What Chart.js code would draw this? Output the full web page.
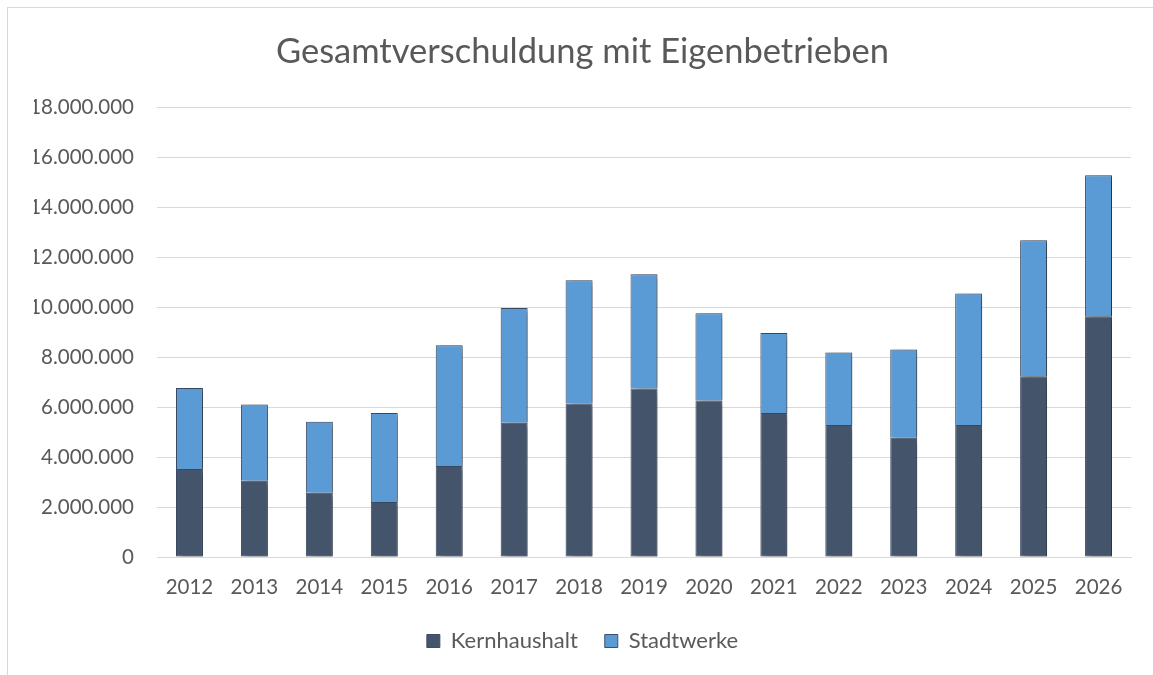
<!DOCTYPE html>
<html>
<head>
<meta charset="utf-8">
<script src="https://cdn.jsdelivr.net/npm/chart.js@4/dist/chart.umd.min.js"></script>
<style>
  html, body { margin: 0; padding: 0; background: #fff; overflow: hidden; }
  #wrap { position: relative; width: 1153px; height: 675px; }
  #frame { position: absolute; left: 7px; top: 7px; width: 1200px; height: 700px;
           border-left: 1px solid #D9D9D9; border-top: 1px solid #D9D9D9; pointer-events: none; }
  canvas { position: absolute; left: 0; top: 0; }
</style>
</head>
<body>
<div id="wrap">
  <canvas id="c" width="1153" height="675"></canvas>
  <div id="frame"></div>
</div>
<script>
const categories = ['2012','2013','2014','2015','2016','2017','2018','2019','2020','2021','2022','2023','2024','2025','2026'];
const kernhaushalt = [3520000, 3050000, 2570000, 2200000, 3640000, 5370000, 6150000, 6750000, 6270000, 5770000, 5280000, 4770000, 5280000, 7240000, 9640000];
const gesamt = [6770000, 6110000, 5410000, 5770000, 8480000, 9970000, 11080000, 11320000, 9760000, 8970000, 8190000, 8310000, 10550000, 12680000, 15280000];
const stadtwerke = gesamt.map((g, i) => g - kernhaushalt[i]);
const yMax = 18000000;
const yStep = 2000000;

const FONT = "Lato, 'Open Sans', sans-serif";
const TXT = '#595959';
const fmt = v => String(Math.round(v)).replace(/\B(?=(\d{3})+(?!\d))/g, '.');

const shadowPlugin = {
  id: 'shadow',
  beforeDatasetsDraw(chart) {
    const ctx = chart.ctx;
    ctx.save();
    ctx.shadowColor = 'rgba(0,0,0,0.4)';
    ctx.shadowBlur = 6;
    ctx.shadowOffsetX = 3;
    ctx.shadowOffsetY = 2;
  },
  afterDatasetsDraw(chart) { chart.ctx.restore(); }
};

new Chart(document.getElementById('c'), {
  type: 'bar',
  data: {
    labels: categories,
    datasets: [
      { label: 'Kernhaushalt', data: kernhaushalt, backgroundColor: '#44546A', borderColor: '#3D4E66', borderWidth: 1, borderSkipped: false },
      { label: 'Stadtwerke', data: stadtwerke, backgroundColor: '#5B9BD5', borderColor: '#3D4E66', borderWidth: 1, borderSkipped: 'start' }
    ]
  },
  plugins: [shadowPlugin],
  options: {
    responsive: false,
    animation: false,
    layout: { padding: { left: 34, right: 22, top: 0, bottom: 13 } },
    datasets: { bar: { barPercentage: 1, categoryPercentage: 0.415 } },
    plugins: {
      title: {
        display: true,
        text: 'Gesamtverschuldung mit Eigenbetrieben',
        color: TXT,
        font: { family: FONT, size: 34.5, weight: 'normal' },
        padding: { top: 31, bottom: 35 }
      },
      legend: {
        position: 'bottom',
        labels: {
          color: TXT,
          font: { family: FONT, size: 22 },
          boxWidth: 13, boxHeight: 13,
          padding: 27
        }
      },
      tooltip: { enabled: false }
    },
    scales: {
      x: {
        stacked: true,
        grid: { display: false },
        border: { color: '#D9D9D9' },
        afterFit(scale) { scale.height = 46; },
        ticks: { color: TXT, font: { family: FONT, size: 20.5 }, padding: 10 }
      },
      y: {
        stacked: true,
        min: 0, max: yMax,
        afterFit(scale) { scale.width = 123; },
        border: { display: false },
        grid: { color: '#D9D9D9', drawTicks: false },
        ticks: { stepSize: yStep, color: TXT, font: { family: FONT, size: 20.5 }, padding: 23, callback: v => fmt(v) }
      }
    }
  }
});
</script>
</body>
</html>
